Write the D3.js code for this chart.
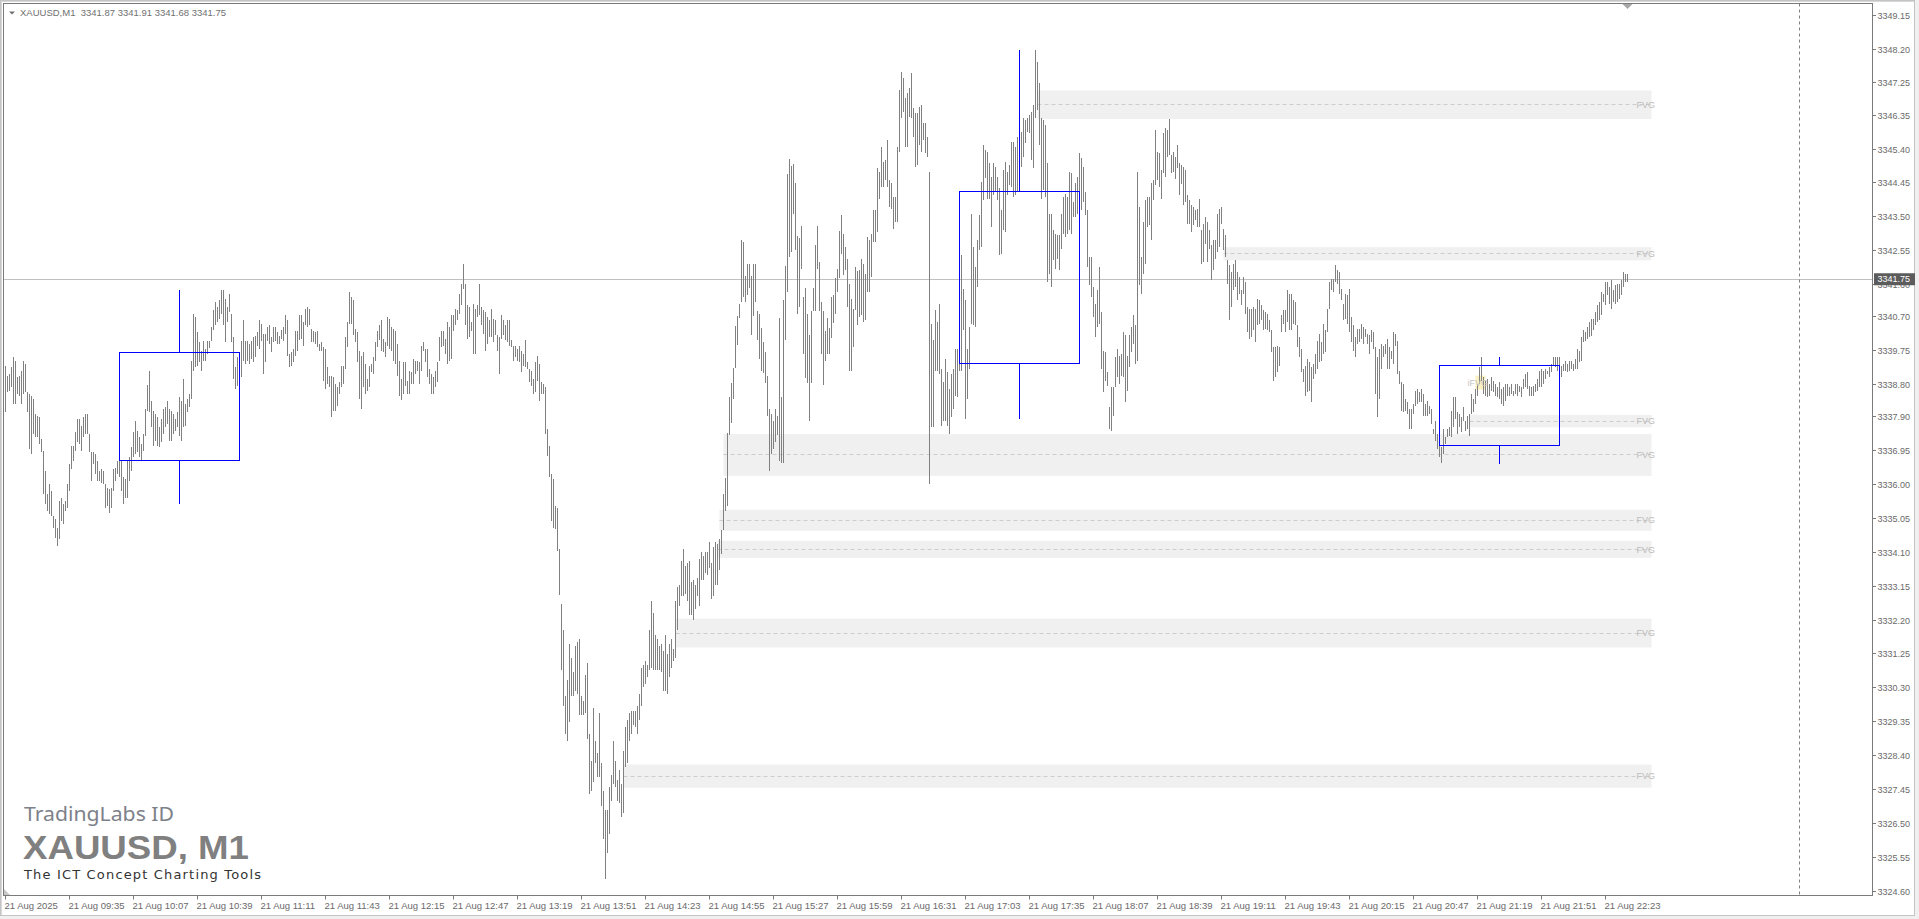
<!DOCTYPE html>
<html><head><meta charset="utf-8">
<script src="https://cdn.jsdelivr.net/npm/d3@7"></script>
<style>html,body{margin:0;padding:0;background:#fff;overflow:hidden}svg{display:block}</style>
</head><body><svg id="c" width="1919" height="919"></svg>
<script>
// ---------------- DATA ----------------
const headerSymbol = "XAUUSD,M1";
const headerOHLC = ["3341.87", "3341.91", "3341.68", "3341.75"];
const currentPrice = 3341.75;
const priceBase = 3300; // bar values below are price minus 3300
const barHighs = [
39.33,39.05,39.10,39.28,39.57,39.47,39.00,39.05,39.19,39.47,
39.38,38.58,38.54,38.49,38.40,37.97,37.93,37.88,37.27,36.94,
36.38,35.73,36.01,35.82,35.12,35.02,34.79,35.54,35.63,35.45,
35.54,36.01,36.57,37.08,37.08,37.46,37.83,37.83,37.65,37.88,
37.97,37.97,37.41,36.90,36.90,36.85,36.66,36.38,36.43,36.38,
36.01,35.91,35.87,35.91,36.43,36.47,36.66,36.87,36.66,36.20,
36.15,36.66,36.76,37.04,37.46,37.79,37.51,37.32,37.13,37.41,
38.11,38.80,39.17,38.35,38.07,37.97,37.88,37.60,37.83,38.11,
38.16,38.35,38.11,38.07,37.97,37.83,38.02,38.44,38.35,38.96,
38.25,38.40,38.54,39.47,40.78,40.69,40.27,39.99,39.75,40.03,
39.80,40.03,40.03,40.41,40.88,41.11,40.97,41.16,41.44,41.44,
41.20,40.97,41.34,40.78,40.13,39.28,39.57,39.71,40.03,40.60,
40.03,40.03,39.94,40.03,40.13,40.17,40.27,40.60,40.50,40.22,
40.22,40.41,40.46,40.13,40.41,40.41,40.27,40.17,40.32,40.41,
40.74,40.60,39.66,39.71,39.80,40.31,40.31,40.74,40.74,40.55,
40.92,40.97,40.92,40.36,40.31,40.27,40.31,39.94,39.99,39.85,
39.80,39.29,39.05,39.05,39.00,38.82,38.72,38.86,39.33,39.33,
40.13,40.55,41.39,41.25,41.16,40.36,40.27,39.75,39.61,39.71,
39.38,38.96,39.33,39.38,39.57,39.99,40.31,40.46,40.60,40.08,
39.99,40.69,40.64,40.41,40.36,40.31,39.94,39.47,38.96,39.43,
39.43,38.91,39.19,39.15,39.52,39.47,39.47,39.43,39.89,39.99,
39.80,39.80,39.24,39.10,39.00,39.19,39.43,40.13,40.31,40.31,
40.08,40.55,40.41,40.74,40.74,40.92,40.88,41.35,41.63,42.19,
41.63,41.02,40.97,40.55,41.07,40.92,41.02,41.63,40.97,40.88,
40.83,40.69,40.60,40.92,40.64,40.60,40.18,40.13,40.74,40.60,
40.46,40.60,40.60,40.04,39.89,39.89,39.80,39.89,39.75,39.66,
40.04,39.43,39.24,39.19,38.96,39.43,39.61,39.38,38.86,38.82,
38.72,37.55,37.09,36.29,36.15,35.40,35.35,34.20,32.66,31.92,
30.06,30.53,31.53,31.13,30.73,31.46,31.59,31.66,30.06,29.93,
30.66,31.00,29.00,28.26,29.73,28.80,28.46,29.60,28.20,27.40,
26.87,26.87,27.53,27.87,28.80,28.26,27.73,28.00,27.60,28.53,
29.20,29.40,29.60,29.66,29.66,29.66,29.80,30.13,30.86,30.93,
31.06,30.93,31.92,32.72,32.39,31.79,31.66,31.46,31.53,31.33,
31.79,31.26,31.53,31.66,31.39,32.72,33.12,33.19,33.86,34.19,
33.72,33.79,33.86,33.26,33.32,33.19,33.39,33.92,34.12,33.99,
34.12,34.12,34.39,33.79,34.26,34.39,34.32,34.46,34.72,35.72,
36.19,37.45,38.45,38.85,39.25,40.45,40.71,41.05,42.84,42.78,
41.84,42.18,42.18,41.84,42.18,42.18,40.85,40.78,40.38,39.98,
39.71,39.05,38.12,37.98,37.78,38.12,37.92,40.65,38.45,41.18,
42.11,44.71,45.11,44.91,44.97,44.44,42.97,42.91,43.24,41.25,
41.51,40.78,40.18,40.85,41.51,42.71,43.24,42.24,41.11,40.85,
40.31,40.65,40.38,41.25,41.31,41.78,42.04,43.11,43.55,43.03,
42.66,42.33,41.63,41.20,40.92,42.10,41.97,42.00,42.33,42.19,
41.91,42.94,42.84,43.03,43.69,43.69,44.86,44.76,45.47,45.04,
45.09,45.65,44.53,44.44,44.06,44.06,45.47,47.06,47.57,47.39,
46.82,46.96,47.10,47.53,46.54,46.40,46.40,46.59,46.64,46.12,
46.12,45.75,44.76,40.50,40.04,40.88,40.55,41.06,39.24,38.86,
39.52,39.15,38.68,39.10,39.24,39.80,39.80,39.80,42.42,41.49,
41.16,39.80,40.41,43.59,42.66,42.10,42.84,43.55,44.48,45.51,
45.37,45.33,45.00,44.62,45.00,44.90,44.62,44.30,43.69,44.81,
45.04,44.76,44.95,45.61,45.61,45.47,45.75,45.65,45.89,46.26,
46.21,46.26,46.36,46.45,46.64,48.18,47.85,47.24,46.26,46.21,
46.07,45.00,43.59,43.59,43.13,43.03,42.99,42.99,43.59,44.06,
44.15,44.06,44.76,44.72,43.92,44.44,44.62,45.28,45.14,44.90,
44.20,43.69,42.38,42.38,41.53,41.06,41.44,42.10,40.83,39.75,
39.71,39.15,38.16,38.72,38.72,39.57,39.80,39.61,39.66,40.27,
40.18,39.61,40.18,40.41,40.74,40.46,44.76,43.78,42.37,43.36,
43.97,44.06,44.06,44.44,44.53,45.93,45.32,45.28,44.81,45.84,
45.98,45.93,46.23,45.23,45.32,45.18,45.51,45.00,44.95,44.90,
44.81,44.11,43.97,43.83,43.78,43.69,43.73,44.01,43.12,43.31,
43.50,43.36,43.12,42.70,42.84,42.84,43.59,43.73,43.78,43.17,
42.98,42.28,42.14,41.95,42.19,42.28,41.95,41.81,41.44,41.81,
41.67,40.97,40.92,40.92,40.97,40.92,41.21,41.16,41.02,40.88,
40.83,40.78,40.60,40.32,39.85,39.85,39.89,39.85,40.74,40.88,
40.88,41.44,41.35,41.35,41.16,41.11,40.46,40.13,39.80,39.24,
39.33,39.52,39.43,39.29,39.38,39.66,40.03,40.22,39.99,40.50,
40.32,40.92,41.67,41.77,41.77,42.14,42.00,41.95,41.49,41.06,
41.35,41.30,41.49,40.69,40.46,40.13,40.36,40.36,40.50,40.41,
40.36,40.22,40.18,40.32,40.27,39.85,39.57,39.80,39.94,39.89,
39.94,40.08,39.85,39.75,40.27,40.22,40.03,39.19,38.86,38.82,
38.40,38.30,38.12,38.12,38.26,38.63,38.68,38.58,38.68,38.54,
38.26,38.35,38.21,38.12,37.55,37.79,37.41,37.27,37.04,37.55,
37.32,37.55,37.60,38.07,38.44,38.44,38.02,37.97,37.88,38.16,
37.79,37.93,37.97,38.54,38.40,38.68,38.82,39.28,39.57,39.00,
38.91,38.96,38.82,39.00,38.91,38.82,38.72,38.86,38.68,38.72,
38.82,38.82,38.72,38.82,38.63,38.82,38.82,38.77,38.72,38.96,
39.10,39.14,38.77,38.72,38.77,38.82,38.96,39.19,39.24,39.19,
39.24,39.19,39.28,39.38,39.57,39.57,39.57,39.57,39.33,39.38,
39.47,39.38,39.47,39.47,39.38,39.52,39.80,39.75,40.13,40.32,
40.27,40.41,40.55,40.64,40.64,40.83,41.02,41.11,41.39,41.35,
41.67,41.67,41.53,41.72,41.44,41.58,41.63,41.63,41.72,41.95,
41.91,41.91
];
const barLows = [
38.02,38.58,38.63,38.72,38.25,38.25,38.54,38.49,38.25,38.54,
38.58,38.02,36.99,36.85,37.41,37.32,37.32,37.13,36.90,35.73,
35.45,35.26,35.16,35.12,34.79,34.51,34.27,34.46,34.98,34.88,
35.26,35.35,35.82,36.43,36.66,36.94,37.18,37.13,36.94,37.32,
37.41,37.41,36.90,36.10,36.57,36.29,36.10,36.10,36.05,36.01,
35.35,35.40,35.21,35.35,35.82,36.10,36.29,36.20,35.82,35.46,
35.63,35.63,36.10,36.38,36.76,36.85,36.90,36.76,36.68,36.94,
37.37,38.07,38.02,37.60,37.08,37.22,37.08,37.04,37.18,37.41,
37.60,37.69,37.22,37.22,37.41,37.51,37.60,37.37,37.22,37.60,
37.65,38.02,38.16,38.40,39.19,39.28,39.33,39.42,39.19,39.47,
39.47,39.66,39.83,40.03,40.32,40.46,40.55,40.64,40.78,40.46,
39.99,40.55,40.83,39.99,38.96,38.68,38.77,38.82,39.00,39.47,
39.38,39.47,39.38,39.52,39.42,39.57,39.89,39.80,40.03,39.10,
39.42,40.03,39.94,39.71,39.99,40.03,39.94,39.94,40.08,40.03,
40.22,39.61,39.28,39.33,39.43,39.61,39.75,40.04,40.08,39.89,
40.46,40.41,40.46,39.99,39.99,39.94,39.85,39.75,39.75,38.91,
38.68,38.82,38.72,37.88,38.07,38.07,38.21,38.54,38.72,38.82,
39.24,39.85,40.50,40.50,40.18,39.99,39.43,38.40,38.11,38.72,
38.54,38.63,38.72,39.15,39.10,39.47,39.85,40.04,39.75,39.71,
39.57,39.89,39.80,39.75,39.47,39.38,39.05,38.49,38.37,38.54,
38.77,38.54,38.54,38.82,38.82,39.10,39.19,38.82,39.19,39.75,
39.43,39.00,38.82,38.54,38.54,38.72,38.86,39.47,39.85,39.89,
39.66,39.38,39.47,39.52,40.31,40.46,40.60,40.78,41.02,41.49,
40.46,40.08,40.13,40.31,39.66,39.66,40.69,40.74,40.46,40.22,
39.75,39.94,40.13,40.13,39.99,40.18,39.75,39.10,40.08,40.18,
40.04,39.99,39.89,39.85,39.47,39.57,39.47,39.43,39.15,39.33,
39.29,39.24,38.86,38.77,38.54,38.58,38.91,38.35,38.54,38.54,
37.41,36.81,36.20,34.98,34.79,34.74,34.14,32.90,30.80,29.80,
29.00,28.80,29.33,30.06,30.06,30.20,30.13,29.53,29.53,29.53,
29.60,28.87,27.33,27.40,27.67,28.20,27.80,27.80,27.00,26.07,
24.94,25.67,26.20,27.14,27.60,27.53,27.14,27.07,26.67,26.80,
28.07,28.20,28.80,29.00,29.26,29.20,29.00,29.40,29.80,30.33,
30.40,30.60,30.80,30.86,30.80,30.80,30.80,30.80,30.73,30.20,
30.20,30.13,30.60,30.86,31.06,31.13,31.92,32.59,32.86,32.86,
32.93,32.72,32.33,32.33,32.19,32.52,32.86,32.59,33.32,33.32,
33.52,33.46,33.66,32.79,32.86,33.19,33.19,33.59,34.06,34.72,
35.26,35.39,37.39,37.72,38.38,39.25,39.91,40.65,41.11,41.25,
41.11,41.31,41.51,40.18,40.71,41.11,40.05,39.51,39.18,39.12,
38.85,37.92,36.39,36.85,36.99,37.19,37.39,36.65,36.59,36.59,
40.05,41.38,42.38,42.51,43.57,42.58,40.78,40.98,42.04,39.65,
38.98,38.85,37.78,38.85,40.85,40.85,42.04,40.85,39.65,38.78,
39.45,39.65,39.65,40.11,40.51,40.78,41.38,41.78,42.47,41.86,
42.00,40.97,39.19,39.19,39.85,40.88,40.46,40.69,40.74,40.55,
40.60,41.39,41.39,41.81,42.80,42.80,43.08,44.01,44.34,44.34,
44.53,44.34,43.78,43.73,43.17,43.36,43.36,45.33,46.26,46.45,
45.47,45.47,46.31,46.26,45.75,44.90,44.95,45.51,45.33,45.65,
45.28,45.18,36.01,37.60,37.60,39.19,39.19,39.10,37.65,37.79,
37.79,37.65,37.41,37.88,38.12,38.49,38.44,39.19,39.19,40.32,
37.83,38.40,39.24,40.50,40.46,40.41,41.53,42.56,42.66,43.97,
44.58,44.01,44.01,43.22,44.11,44.20,43.97,42.42,42.47,43.13,
43.08,44.11,44.39,44.34,44.06,44.11,44.20,44.34,44.90,45.18,
45.56,45.89,45.84,45.09,44.86,46.26,46.50,45.51,44.01,44.25,
44.06,41.67,41.91,41.53,42.28,42.05,42.33,42.00,42.61,43.03,
42.94,43.03,43.13,43.03,43.50,43.50,43.59,44.20,43.69,43.92,
43.55,42.10,41.58,41.25,40.69,40.13,40.41,40.50,39.24,38.58,
38.91,38.77,37.55,37.51,37.93,38.72,39.00,38.82,39.05,39.00,
38.30,38.63,39.28,39.71,39.94,39.38,39.47,41.58,41.35,41.91,
42.19,43.22,43.26,42.84,43.97,44.39,44.53,44.34,44.01,44.72,
44.62,45.18,45.23,44.72,44.76,44.57,44.86,44.11,44.43,43.83,
43.92,43.31,43.31,43.08,43.26,43.41,43.22,43.22,42.19,42.24,
42.75,42.24,42.61,41.72,42.00,42.33,42.51,42.66,43.31,42.56,
42.37,41.63,40.60,40.97,41.44,41.53,41.16,41.35,41.02,41.35,
40.78,40.27,40.08,40.13,40.32,39.99,40.46,40.50,40.60,40.32,
40.36,40.32,40.27,39.71,38.91,39.01,39.14,39.33,40.27,40.50,
40.27,40.55,40.32,40.32,40.50,40.46,39.85,39.57,39.14,38.86,
38.49,38.58,38.63,38.30,38.96,39.10,39.24,39.43,39.47,39.66,
39.71,40.27,40.92,41.44,41.39,41.67,41.63,41.35,41.16,40.60,
40.64,40.50,40.27,39.99,39.75,39.57,39.94,39.99,40.08,39.94,
40.13,39.94,39.66,39.99,39.80,38.54,37.88,38.40,39.24,39.57,
39.66,39.24,39.24,39.52,39.38,39.89,39.10,38.82,38.07,38.02,
38.07,37.97,37.55,37.55,37.98,38.21,38.26,38.30,38.30,37.93,
37.93,37.93,37.98,37.69,37.41,37.23,36.99,36.76,36.59,36.85,
37.13,37.32,37.37,37.32,37.60,37.83,37.41,37.60,37.46,37.79,
37.51,37.55,37.37,37.97,38.02,38.26,38.49,38.82,38.91,38.54,
38.49,38.44,38.49,38.63,38.58,38.49,38.44,38.40,38.26,38.21,
38.35,38.49,38.49,38.54,38.49,38.54,38.49,38.58,38.44,38.68,
38.72,38.68,38.49,38.49,38.49,38.58,38.63,38.72,38.72,38.82,
38.96,39.10,39.00,39.14,39.33,39.28,39.19,39.28,39.00,39.19,
39.19,39.14,39.19,39.24,39.19,39.24,39.24,39.43,39.47,39.99,
40.03,40.08,40.13,40.17,40.32,40.46,40.55,40.60,40.74,41.11,
41.02,41.30,41.06,40.92,41.11,41.06,41.11,41.21,41.30,41.53,
41.67,41.68
];
const timeLabels = ["21 Aug 2025","21 Aug 09:35","21 Aug 10:07","21 Aug 10:39","21 Aug 11:11","21 Aug 11:43","21 Aug 12:15","21 Aug 12:47","21 Aug 13:19","21 Aug 13:51","21 Aug 14:23","21 Aug 14:55","21 Aug 15:27","21 Aug 15:59","21 Aug 16:31","21 Aug 17:03","21 Aug 17:35","21 Aug 18:07","21 Aug 18:39","21 Aug 19:11","21 Aug 19:43","21 Aug 20:15","21 Aug 20:47","21 Aug 21:19","21 Aug 21:51","21 Aug 22:23"];
const timeLabelBars = [0,32,64,96,128,160,192,224,256,288,320,352,384,416,448,480,512,544,576,608,640,672,704,736,768,800];
const priceTickLabels = ["3349.15","3348.20","3347.25","3346.35","3345.40","3344.45","3343.50","3342.55","3341.60","3340.70","3339.75","3338.80","3337.90","3336.95","3336.00","3335.05","3334.10","3333.15","3332.20","3331.25","3330.30","3329.35","3328.40","3327.45","3326.50","3325.55","3324.60"];
const priceMin = 3324.60, priceMax = 3349.15;
const lastBarIndex = 811;
const fvgStartBars = [516, 609, 732, 359, 357, 356, 335, 309];
const fvgTops =    [3347.04, 3342.65, 3337.95, 3337.41, 3335.29, 3334.42, 3332.24, 3328.15];
const fvgBottoms = [3346.24, 3342.28, 3337.60, 3336.24, 3334.70, 3333.94, 3331.43, 3327.50];
const fvgEndBar = 823;
const ifvgStartBar = 735, ifvgEndBar = 740, ifvgTop = 3339.05, ifvgBottom = 3338.66;
const htfStartBars = [57, 477, 717];
const htfOpens  = [3336.66, 3339.38, 3337.08];
const htfCloses = [3339.69, 3344.21, 3339.32];
const htfHighs  = [3341.46, 3348.18, 3339.59];
const htfLows   = [3335.46, 3337.85, 3336.59];
const htfBarsPerCandle = 60;
const futureLineBar = 897;
const watermarkLines = ["TradingLabs ID", "XAUUSD, M1", "The ICT Concept Charting Tools"];

// ---------------- DRAW ----------------
const W = 1919, H = 919;
const plotL = 3.5, plotT = 3.5, plotR = 1872.5, plotB = 895.5;
const svg = d3.select("#c");
const x = d3.scaleLinear().domain([0, lastBarIndex]).range([5.5, 1627.5]);
const y = d3.scaleLinear().domain([priceMin, priceMax]).range([891.2, 15.2]);
const cx = v => Math.round(x(v) - 0.5) + 0.5;
const cy = v => Math.round(y(v) - 0.5) + 0.5;

svg.append("rect").attr("width", W).attr("height", H).attr("fill", "#f0f0f0");
svg.append("rect").attr("x", 0).attr("y", 0).attr("width", 1915).attr("height", 916).attr("fill", "#fff");
svg.append("rect").attr("x", 0.5).attr("y", 0.5).attr("width", 1914).attr("height", 915)
  .attr("fill", "none").attr("stroke", "#c4c4c4");
svg.append("path").attr("d", "M1.5,915V1.5H1914").attr("fill", "none").attr("stroke", "#d8d8d8");

const font = "'Liberation Sans', Arial, sans-serif";

// FVG zones
const zones = svg.append("g");
fvgStartBars.forEach((s, i) => {
  const yt = y(fvgTops[i]), yb = y(fvgBottoms[i]);
  zones.append("rect").attr("x", x(s)).attr("y", yt).attr("width", x(fvgEndBar) - x(s))
    .attr("height", yb - yt).attr("fill", "#f0f0f0");
});
fvgStartBars.forEach((s, i) => {
  const ym = cy((fvgTops[i] + fvgBottoms[i]) / 2);
  zones.append("line").attr("x1", x(s)).attr("x2", x(fvgEndBar)).attr("y1", ym).attr("y2", ym)
    .attr("stroke", "#cdcdcd").attr("stroke-dasharray", "4,3");
});
// iFVG zone
zones.append("rect").attr("x", x(ifvgStartBar)).attr("y", y(ifvgTop))
  .attr("width", x(ifvgEndBar) - x(ifvgStartBar)).attr("height", y(ifvgBottom) - y(ifvgTop))
  .attr("fill", "#fbf0bf");

// current price line
svg.append("line").attr("x1", plotL).attr("x2", plotR).attr("y1", cy(currentPrice)).attr("y2", cy(currentPrice))
  .attr("stroke", "#c0c0c0");

// future dashed line
svg.append("line").attr("x1", cx(futureLineBar)).attr("x2", cx(futureLineBar)).attr("y1", plotT).attr("y2", plotB)
  .attr("stroke", "#808080").attr("stroke-dasharray", "3,3");

// bars
let d = "";
barHighs.forEach((h, i) => {
  const xx = cx(i);
  const y1 = y(h + priceBase), y2 = y(barLows[i] + priceBase);
  d += "M" + xx + "," + Math.round(y1) + "V" + Math.max(Math.round(y2), Math.round(y1) + 1);
});
svg.append("path").attr("d", d).attr("stroke", "#808080").attr("stroke-width", 1)
  .attr("fill", "none").attr("shape-rendering", "crispEdges");

// HTF candles (blue)
const htf = svg.append("g").attr("stroke", "#0000ff").attr("fill", "none").attr("shape-rendering", "crispEdges");
htfStartBars.forEach((s, i) => {
  const x1 = cx(s), x2 = cx(s + htfBarsPerCandle), xm = cx(s + htfBarsPerCandle / 2);
  const bt = cy(Math.max(htfOpens[i], htfCloses[i])), bb = cy(Math.min(htfOpens[i], htfCloses[i]));
  htf.append("rect").attr("x", x1).attr("y", bt).attr("width", x2 - x1).attr("height", bb - bt);
  htf.append("line").attr("x1", xm).attr("x2", xm).attr("y1", cy(htfHighs[i])).attr("y2", bt);
  htf.append("line").attr("x1", xm).attr("x2", xm).attr("y1", bb).attr("y2", cy(htfLows[i]));
});

// zone labels
fvgStartBars.forEach((s, i) => {
  svg.append("text").attr("x", x(fvgEndBar) + 3.5).attr("y", y((fvgTops[i] + fvgBottoms[i]) / 2))
    .attr("dy", "0.35em").attr("text-anchor", "end").attr("font-family", font).attr("font-size", 9)
    .attr("fill", "#bcbcbc").text("FVG");
});
svg.append("text").attr("x", x(ifvgEndBar) + 2.5).attr("y", y((ifvgTop + ifvgBottom) / 2))
  .attr("dy", "0.35em").attr("text-anchor", "end").attr("font-family", font).attr("font-size", 9)
  .attr("fill", "#c4c4c4").text("iFVG");

// frame
svg.append("rect").attr("x", plotL).attr("y", plotT).attr("width", plotR - plotL).attr("height", plotB - plotT)
  .attr("fill", "none").attr("stroke", "#7a7a7a");
// corner marker (bottom-left)
svg.append("path").attr("d", "M4,889L4,895L10,895Z").attr("fill", "#c8c8c8");

// shift marker
svg.append("path").attr("d", `M${x(lastBarIndex) - 5},4L${x(lastBarIndex) + 5},4L${x(lastBarIndex)},9Z`).attr("fill", "#a8a8a8");

// price axis
const pa = svg.append("g");
priceTickLabels.forEach(t => {
  const v = +t, yy = cy(v);
  pa.append("line").attr("x1", plotR).attr("x2", plotR + 3.5).attr("y1", yy).attr("y2", yy).attr("stroke", "#7a7a7a");
  pa.append("text").attr("x", 1877.5).attr("y", yy).attr("dy", "0.35em").attr("font-family", font)
    .attr("font-size", 9).attr("fill", "#6a6a6a").text(t);
});
// current price box
const cpy = y(currentPrice);
pa.append("rect").attr("x", 1874).attr("y", cpy - 6).attr("width", 41).attr("height", 12).attr("fill", "#5c5c5c");
pa.append("text").attr("x", 1877.5).attr("y", cpy).attr("dy", "0.35em").attr("font-family", font)
  .attr("font-size", 9).attr("fill", "#ffffff").text(currentPrice.toFixed(2));

// time axis
const ta = svg.append("g");
timeLabels.forEach((t, i) => {
  const xx = cx(timeLabelBars[i]);
  ta.append("line").attr("x1", xx).attr("x2", xx).attr("y1", plotB).attr("y2", plotB + 4).attr("stroke", "#7a7a7a");
  ta.append("text").attr("x", xx - 1).attr("y", 909).attr("font-family", font).attr("font-size", 9.5)
    .attr("fill", "#6a6a6a").text(t);
});

// header
svg.append("path").attr("d", "M9,11.5L15,11.5L12,14.5Z").attr("fill", "#707070");
svg.append("text").attr("x", 20).attr("y", 16).attr("font-family", font).attr("font-size", 9.5)
  .attr("fill", "#707070").attr("xml:space", "preserve")
  .text(headerSymbol + "  " + headerOHLC.join(" "));

// watermark
svg.append("text").attr("x", 24).attr("y", 821).attr("font-family", "'Noto Sans', 'Open Sans', sans-serif")
  .attr("font-size", 20).attr("textLength", 150).attr("lengthAdjust", "spacingAndGlyphs")
  .attr("fill", "#7d8189").text(watermarkLines[0]);
svg.append("text").attr("x", 23).attr("y", 858.5).attr("font-family", font).attr("font-weight", "bold")
  .attr("font-size", 34).attr("textLength", 226).attr("lengthAdjust", "spacingAndGlyphs")
  .attr("fill", "#808080").text(watermarkLines[1]);
svg.append("text").attr("x", 24).attr("y", 878.5).attr("font-family", "'DejaVu Sans', sans-serif")
  .attr("font-size", 13).attr("textLength", 237).attr("lengthAdjust", "spacing")
  .attr("fill", "#333").text(watermarkLines[2]);
</script></body></html>
